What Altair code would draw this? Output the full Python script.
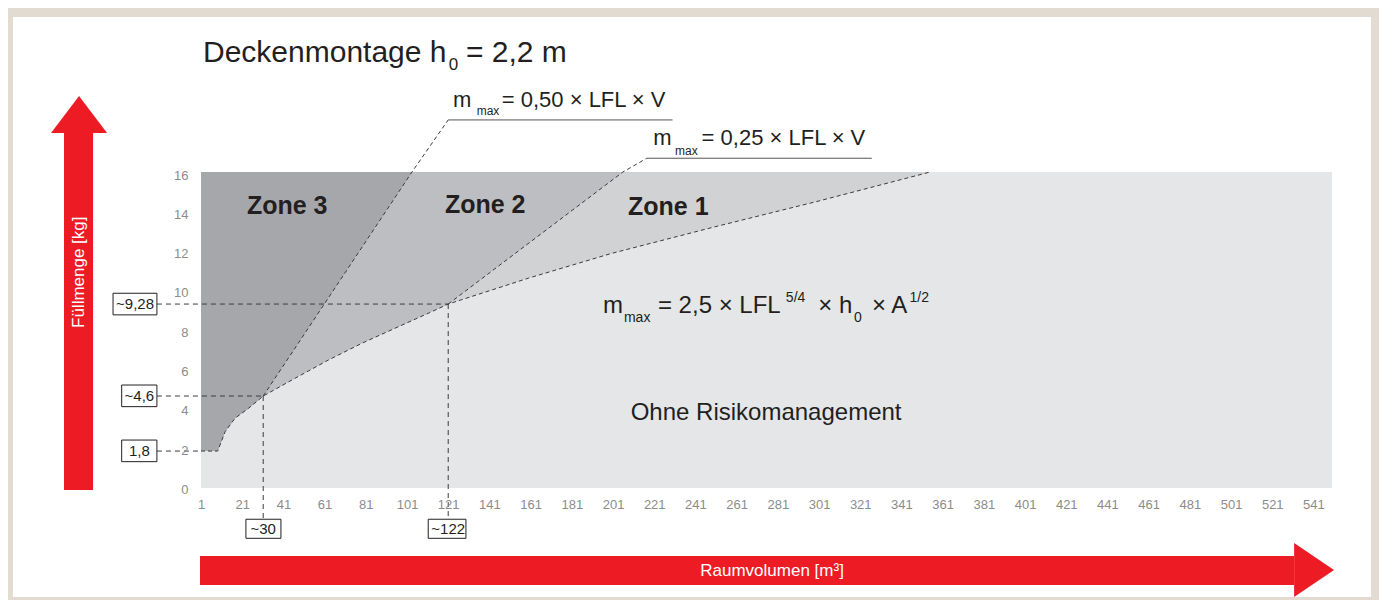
import altair as alt
import pandas as pd

# ---------------- data ----------------
curve_x = [1, 9.1, 12.7, 17.5, 24.0, 31.2, 46.6, 62.8, 79.0, 95.2, 111.3, 121.0, 160, 200, 250, 300, 355]
curve_y = [1.8, 1.8, 2.78, 3.47, 3.97, 4.6, 5.5, 6.43, 7.28, 8.05, 8.81, 9.28, 10.6, 11.85, 13.2, 14.5, 16.0]

line050_x = [31.2, 103.4, 121.0]
line050_y = [4.6, 16.0, 18.65]
line025_x = [121.0, 205.8, 217.4]
line025_y = [9.28, 16.0, 16.7]

x_ticks = list(range(1, 542, 20))
y_ticks = list(range(0, 17, 2))

# marked readings
mark_vals_y = [9.28, 4.6, 1.8]
mark_text_y = ["~9,28", "~4,6", "1,8"]
mark_vals_x = [31.2, 121.0]
mark_text_x = ["~30", "~122"]

# ---------------- style ----------------
FONT = "Liberation Sans"
BEIGE = "#e2dbd1"
BG = "#e5e6e8"
Z1 = "#d1d2d4"
Z2 = "#bdbec1"
Z3 = "#a6a7aa"
RED = "#ed1c24"
INK = "#231f20"
DASH = "#3c3c3c"
TICK = "#8c8c8c"

XS = alt.Scale(domain=[1, 550], zero=False, nice=False)
YS = alt.Scale(domain=[-0.08, 16], zero=False, nice=False)
XAX = alt.Axis(values=x_ticks, ticks=False, domain=False, grid=False, title=None, zindex=2,
               labelFont=FONT, labelFontSize=13, labelColor=TICK, labelPadding=10,
               labelFlush=False, labelOverlap=False)
YAX = alt.Axis(values=y_ticks, ticks=False, domain=False, grid=False, title=None, zindex=2,
               labelFont=FONT, labelFontSize=13, labelColor=TICK, labelPadding=13,
               labelOffset=3, labelFlush=False, labelOverlap=False)


def X(f="x"):
    return alt.X(f, type="quantitative", scale=XS, axis=XAX)


def Y(f="y"):
    return alt.Y(f, type="quantitative", scale=YS, axis=YAX)


layers = []

# white inner panel of the framed figure
frame = pd.DataFrame({"x": [-90.26], "x2": [568.9], "y": [-5.63], "y2": [23.89]})
layers.append(alt.Chart(frame).mark_rect(color="white").encode(
    x=X(), x2="x2", y=Y(), y2="y2"))

# plot background
bg = pd.DataFrame({"x": [1], "x2": [550], "y": [-0.08], "y2": [16]})
layers.append(alt.Chart(bg).mark_rect(color=BG).encode(x=X(), x2="x2", y=Y(), y2="y2"))

# zones (painted from the light to the dark)
n050 = curve_x.index(line050_x[0]) + 1
n025 = curve_x.index(line025_x[0]) + 1
zone1 = pd.DataFrame({"x": curve_x, "y": curve_y, "y2": [16] * len(curve_x)})
zone2 = pd.DataFrame({"x": curve_x[:n025] + [line025_x[1]],
                      "y": curve_y[:n025] + [line025_y[1]], "y2": [16] * (n025 + 1)})
zone3 = pd.DataFrame({"x": curve_x[:n050] + [line050_x[1]],
                      "y": curve_y[:n050] + [line050_y[1]], "y2": [16] * (n050 + 1)})
for df, col in [(zone1, Z1), (zone2, Z2), (zone3, Z3)]:
    layers.append(alt.Chart(df).mark_area(color=col, orient="vertical", opacity=1).encode(
        x=X(), y=Y(), y2="y2"))

# dashed curve and lines
curve = pd.DataFrame({"x": curve_x, "y": curve_y})
l050 = pd.DataFrame({"x": line050_x, "y": line050_y})
l025 = pd.DataFrame({"x": line025_x, "y": line025_y})
for df in [curve, l050, l025]:
    layers.append(alt.Chart(df).mark_line(color=DASH, strokeWidth=1, strokeDash=[4, 3]).encode(
        x=X(), y=Y()))

# underlines of the formula labels
under = pd.DataFrame({"x": [line050_x[-1], line025_x[-1]], "x2": [229.9, 326.6],
                      "y": [line050_y[-1], line025_y[-1]]})
layers.append(alt.Chart(under).mark_rule(color="#555555", strokeWidth=1).encode(
    x=X(), x2="x2", y=Y()))

# guide lines
hguides = pd.DataFrame({"x": [-20.4] * 3, "x2": [line025_x[0], line050_x[0], curve_x[0]],
                        "y": mark_vals_y})
layers.append(alt.Chart(hguides).mark_rule(color=DASH, strokeWidth=1, strokeDash=[5, 4]).encode(
    x=X(), x2="x2", y=Y()))
vguides = pd.DataFrame({"x": mark_vals_x, "y": [line050_y[0], line025_y[0]], "y2": [-1.67, -1.67]})
layers.append(alt.Chart(vguides).mark_rule(color=DASH, strokeWidth=1, strokeDash=[5, 4]).encode(
    x=X(), y=Y(), y2="y2"))

# boxes
boxes = pd.DataFrame({
    "x": [-41.7, -37.5, -37.5, 22.8, 111.3],
    "x2": [-20.4, -20.4, -20.4, 39.8, 129.6],
    "y": [9.83, 5.16, 2.36, -1.67, -1.67],
    "y2": [8.73, 4.06, 1.26, -2.64, -2.64]})
layers.append(alt.Chart(boxes).mark_rect(fill="white", stroke=INK, strokeWidth=1).encode(
    x=X(), x2="x2", y=Y(), y2="y2"))
box_txt = pd.DataFrame({
    "x": [-31.0, -28.9, -28.9] + mark_vals_x,
    "y": mark_vals_y + [-2.15, -2.15],
    "t": mark_text_y + mark_text_x})
layers.append(alt.Chart(box_txt).mark_text(font=FONT, fontSize=15, color=INK, align="center",
                                           baseline="middle").encode(x=X(), y=Y(), text="t"))

# red arrows
bodies = pd.DataFrame({"x": [-65.5, 0.51], "x2": [-51.4, 531.6], "y": [17.98, -3.54], "y2": [-0.18, -5.02]})
layers.append(alt.Chart(bodies).mark_rect(color=RED).encode(x=X(), x2="x2", y=Y(), y2="y2"))
vhead = pd.DataFrame({"x": [-71.8, -58.2, -44.6], "y": [17.98, 19.87, 17.98], "y2": [17.98] * 3})
layers.append(alt.Chart(vhead).mark_area(color=RED, orient="vertical").encode(x=X(), y=Y(), y2="y2"))
hhead = pd.DataFrame({"y": [-2.88, -4.25, -5.63], "x": [531.6, 551.0, 531.6], "x2": [531.6] * 3})
layers.append(alt.Chart(hhead).mark_area(color=RED, orient="horizontal").encode(x=X(), x2="x2", y=Y()))

layers.append(alt.Chart(pd.DataFrame({"x": [278.2], "y": [-4.28], "t": ["Raumvolumen [m³]"]})).mark_text(
    font=FONT, fontSize=17, color="white", align="center", baseline="middle").encode(x=X(), y=Y(), text="t"))
layers.append(alt.Chart(pd.DataFrame({"x": [-58.4], "y": [10.9], "t": ["Füllmenge [kg]"]})).mark_text(
    font=FONT, fontSize=17, color="white", align="center", baseline="middle", angle=270).encode(
    x=X(), y=Y(), text="t"))

# zone labels
zones = pd.DataFrame({"x": [23.3, 119.4, 208.3], "y": [13.86, 13.91, 13.81],
                      "t": ["Zone 3", "Zone 2", "Zone 1"]})
layers.append(alt.Chart(zones).mark_text(font=FONT, fontSize=25, fontWeight="bold", color=INK,
                                         align="left", baseline="alphabetic").encode(
    x=X(), y=Y(), text="t"))

# formula and title pieces (left aligned, alphabetic baseline)
pieces = pd.DataFrame([
    # title
    (1.97, 21.61, "Deckenmontage h", 30),
    (121.2, 21.19, "0", 17),
    (129.6, 21.61, "= 2,2 m", 30),
    # 0.50 formula
    (123.3, 19.32, "m", 22),
    (134.8, 18.90, "max", 12),
    (147.0, 19.32, "= 0,50 × LFL × V", 22),
    # 0.25 formula
    (220.5, 17.37, "m", 22),
    (231.1, 16.86, "max", 12),
    (244.0, 17.37, "= 0,25 × LFL × V", 22),
    # main formula
    (196.1, 8.82, "m", 24),
    (206.3, 8.37, "max", 14),
    (222.8, 8.82, "= 2,5 × LFL", 24),
    (284.9, 9.38, "5/4", 14),
    (300.6, 8.82, "× h", 24),
    (318.0, 8.37, "0", 14),
    (326.7, 8.82, "× A", 24),
    (344.9, 9.38, "1/2", 14),
], columns=["x", "y", "t", "s"])
layers.append(alt.Chart(pieces).mark_text(font=FONT, color=INK, align="left", baseline="alphabetic").encode(
    x=X(), y=Y(), text="t", size=alt.Size("s", type="quantitative", scale=None)))

layers.append(alt.Chart(pd.DataFrame({"x": [275.3], "y": [3.38], "t": ["Ohne Risikomanagement"]})).mark_text(
    font=FONT, fontSize=24, color=INK, align="center", baseline="alphabetic").encode(x=X(), y=Y(), text="t"))

chart = alt.layer(*layers).properties(
    width=1131, height=316,
    autosize=alt.AutoSizeParams(type="none"),
    padding={"left": 193, "top": 164, "right": 47, "bottom": 112},
    background=BEIGE,
).configure_view(stroke=None)

chart.save("out.html", embed_options={"renderer": "svg", "actions": False})
